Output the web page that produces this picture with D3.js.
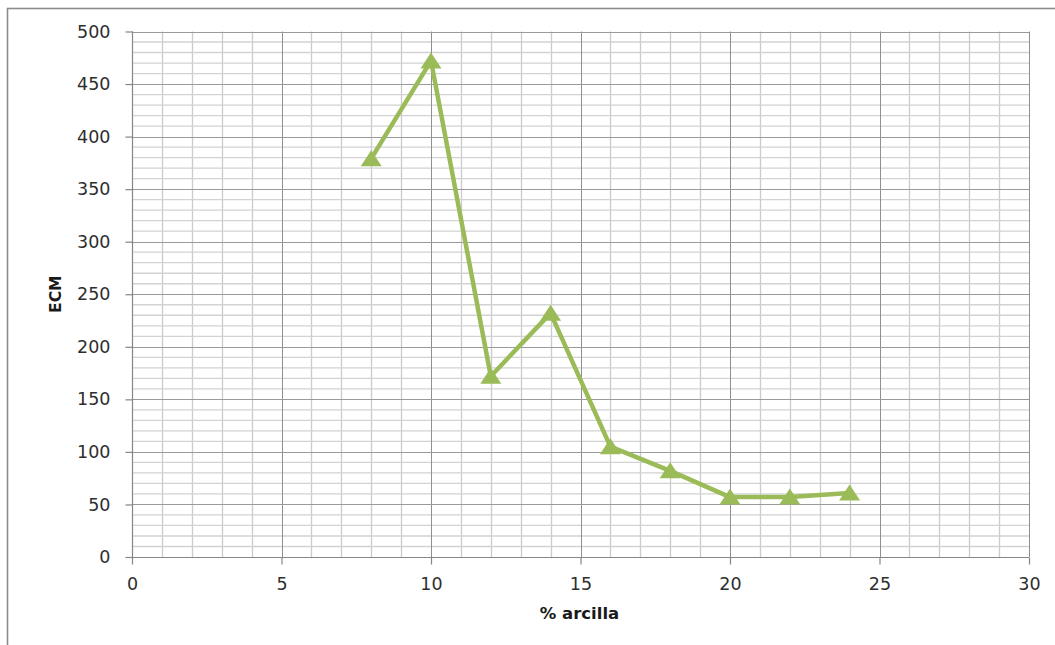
<!DOCTYPE html>
<html>
<head>
<meta charset="utf-8">
<script src="https://cdn.jsdelivr.net/npm/d3@7"></script>
<style>
  html, body { margin: 0; padding: 0; background: #fff; }
  svg { display: block; }
</style>
</head>
<body>
<svg id="chart" width="1055" height="645"></svg>
<script>
// ---- Data ----
const clayPct = [8, 10, 12, 14, 16, 18, 20, 22, 24];
const ecmValues = [379, 472, 172, 232, 105, 82, 57, 57, 61];
const xTicks = [0, 5, 10, 15, 20, 25, 30];
const yTicks = [0, 50, 100, 150, 200, 250, 300, 350, 400, 450, 500];
const xTitle = "% arcilla";
const yTitle = "ECM";

// ---- Layout ----
const W = 1055, H = 645;
const plot = { left: 132, right: 1029, top: 31.5, bottom: 557 };
const green = "#9bbb59";

const svg = d3.select("#chart");

// outer chart border (only top/left visible in frame)
svg.append("rect")
  .attr("x", 7.5).attr("y", 8.5)
  .attr("width", W + 20).attr("height", H + 20)
  .attr("fill", "#fff")
  .attr("stroke", "#8c8c8c")
  .attr("stroke-width", 1.6);

const x = d3.scaleLinear().domain([0, 30]).range([plot.left, plot.right]);
const y = d3.scaleLinear().domain([0, 500]).range([plot.bottom, plot.top]);

const grid = svg.append("g");

// minor gridlines
const xMinor = d3.range(0, 31, 1).filter(v => v % 5 !== 0);
const yMinor = d3.range(0, 501, 10).filter(v => v % 50 !== 0);

grid.selectAll(".vminor").data(xMinor).join("line")
  .attr("x1", d => Math.round(x(d)) + 0.5).attr("x2", d => Math.round(x(d)) + 0.5)
  .attr("y1", plot.top).attr("y2", plot.bottom)
  .attr("stroke", "#cbcbcb").attr("stroke-width", 1.3);

grid.selectAll(".hminor").data(yMinor).join("line")
  .attr("x1", plot.left).attr("x2", plot.right)
  .attr("y1", d => y(d)).attr("y2", d => y(d))
  .attr("stroke", "#d2d2d2").attr("stroke-width", 1.3);

// major gridlines
grid.selectAll(".vmajor").data(xTicks).join("line")
  .attr("x1", d => Math.round(x(d)) + 0.5).attr("x2", d => Math.round(x(d)) + 0.5)
  .attr("y1", plot.top).attr("y2", plot.bottom)
  .attr("stroke", "#8f8f8f").attr("stroke-width", 1);

grid.selectAll(".hmajor").data(yTicks).join("line")
  .attr("x1", plot.left).attr("x2", plot.right)
  .attr("y1", d => Math.round(y(d)) + 0.5).attr("y2", d => Math.round(y(d)) + 0.5)
  .attr("stroke", "#9a9a9a").attr("stroke-width", 1);

// axes
const xAxis = d3.axisBottom(x).tickValues(xTicks).tickSize(7).tickPadding(13).tickFormat(d3.format("d"));
const yAxis = d3.axisLeft(y).tickValues(yTicks).tickSize(7).tickPadding(15).tickFormat(d3.format("d"));

const gx = svg.append("g").attr("transform", `translate(0,${Math.round(plot.bottom) + 0.5})`).call(xAxis);
const gy = svg.append("g").attr("transform", `translate(${plot.left + 0.5},0)`).call(yAxis);

[gx, gy].forEach(g => {
  g.select(".domain").attr("stroke", "#868686").attr("stroke-width", 1.2);
  g.selectAll(".tick line").attr("stroke", "#868686").attr("stroke-width", 1.2);
  g.selectAll(".tick text")
    .attr("fill", "#2e2e2e")
    .style("font-family", "'DejaVu Sans', Verdana, sans-serif")
    .style("font-size", "17.5px");
});
gx.select(".domain").attr("d", `M${plot.left},0H${plot.right}`);
gy.select(".domain").attr("d", `M0,${plot.bottom}V${plot.top}`);

// titles
svg.append("text")
  .attr("x", (plot.left + plot.right) / 2 - 1)
  .attr("y", 619)
  .attr("text-anchor", "middle")
  .style("font-family", "'DejaVu Sans', Verdana, sans-serif")
  .style("font-size", "16.5px")
  .style("font-weight", "bold")
  .attr("fill", "#1a1a1a")
  .text(xTitle);

svg.append("text")
  .attr("transform", `translate(61,${(plot.top + plot.bottom) / 2}) rotate(-90)`)
  .attr("text-anchor", "middle")
  .style("font-family", "'DejaVu Sans', Verdana, sans-serif")
  .style("font-size", "15.5px")
  .style("font-weight", "bold")
  .attr("fill", "#1a1a1a")
  .text(yTitle);

// series
const pts = clayPct.map((c, i) => [c, ecmValues[i]]);
svg.append("path")
  .datum(pts)
  .attr("fill", "none")
  .attr("stroke", green)
  .attr("stroke-width", 4.5)
  .attr("stroke-linejoin", "round")
  .attr("d", d3.line().x(d => x(d[0])).y(d => y(d[1])));

svg.selectAll(".marker").data(pts).join("path")
  .attr("transform", d => `translate(${x(d[0])},${y(d[1])})`)
  .attr("d", "M0,-8.5L10.5,7.5L-10.5,7.5Z")
  .attr("fill", green);
</script>
</body>
</html>
